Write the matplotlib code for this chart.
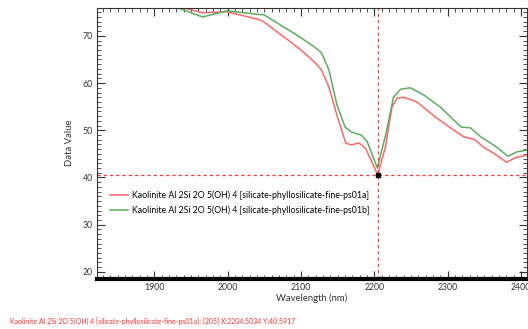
import numpy as np
import matplotlib
matplotlib.use("Agg")
import matplotlib.pyplot as plt
from matplotlib.ticker import MultipleLocator

# ============================
# Data
# ============================
wl_a = [1920, 1966, 1999, 2044, 2049, 2086, 2100, 2118, 2128, 2138, 2149, 2161,
        2169, 2179, 2188, 2204.5, 2215, 2224, 2231, 2240, 2258, 2285, 2304, 2322,
        2336, 2349, 2367, 2380, 2394, 2408]
val_a = [76.7, 74.9, 75.1, 73.4, 73.0, 68.7, 67.0, 64.5, 62.8, 59.2, 53.2, 47.3,
         46.9, 47.3, 46.2, 40.59, 46.4, 54.9, 56.8, 57.0, 56.0, 52.6, 50.5, 48.6,
         48.1, 46.4, 44.7, 43.2, 44.3, 44.7]

wl_b = [1920, 1966, 1999, 2044, 2049, 2094, 2118, 2128, 2138, 2149, 2160, 2169,
        2182, 2190, 2204, 2216, 2226, 2236, 2249, 2267, 2290, 2318, 2331, 2345,
        2367, 2382, 2394, 2408]
val_b = [76.6, 74.0, 75.3, 74.5, 74.5, 70.2, 67.7, 66.4, 62.8, 55.4, 50.7, 49.6,
         49.0, 47.7, 42.0, 49.4, 57.0, 58.7, 59.0, 57.5, 54.9, 50.7, 50.5, 48.6,
         46.4, 44.5, 45.4, 45.8]

label_a = "Kaolinite Al 2Si 2O 5(OH) 4 [silicate-phyllosilicate-fine-ps01a]"
label_b = "Kaolinite Al 2Si 2O 5(OH) 4 [silicate-phyllosilicate-fine-ps01b]"

cursor_x = 2204.5034
cursor_y = 40.5917
cursor_idx = 205

# ============================
# Plot
# ============================
plt.rcParams["font.family"] = ["Lato", "DejaVu Sans"]

fig = plt.figure(figsize=(5.28, 3.29), dpi=100)
ax = fig.add_axes([97 / 528, 1 - 278.5 / 329, 430 / 528, 270.5 / 329])

ax.plot(wl_a, val_a, color="#ff6666", lw=1.1, label=label_a)
ax.plot(wl_b, val_b, color="#5cad5c", lw=1.1, label=label_b)

# cursor crosshair
ax.axhline(cursor_y, color="#ff3333", lw=0.9, ls=(0, (2.5, 2.5)))
ax.axvline(cursor_x, color="#ff3333", lw=0.9, ls=(0, (2.5, 2.5)))
ax.plot([cursor_x], [cursor_y], marker="s", color="black", ms=3, zorder=5)

ax.set_xlim(1822, 2408)
ax.set_ylim(18.6, 75.9)

ax.xaxis.set_major_locator(MultipleLocator(100))
ax.xaxis.set_minor_locator(MultipleLocator(10))
ax.yaxis.set_major_locator(MultipleLocator(10))
ax.yaxis.set_minor_locator(MultipleLocator(1))
ax.tick_params(which="both", direction="in", top=True, right=True,
               labelsize=6.3, colors="#333333", pad=3)
ax.tick_params(which="major", length=6, width=0.8)
ax.tick_params(which="minor", length=3, width=0.6)

for side in ["left", "top", "right"]:
    ax.spines[side].set_linewidth(0.8)
    ax.spines[side].set_color("#333333")
ax.spines["bottom"].set_linewidth(3)
ax.spines["bottom"].set_color("black")

ax.set_xlabel("Wavelength (nm)", fontsize=6.8, color="#333333", labelpad=1)
ax.set_ylabel("Data Value", fontsize=6.8, color="#333333", labelpad=6)

ax.legend(loc="upper left", bbox_to_anchor=(0.012, 0.355), frameon=False,
          fontsize=6.3, handlelength=2.0, handletextpad=0.5, labelspacing=0.6)

fig.text(10 / 528, 1 - 321 / 329,
         f"{label_a}: [{cursor_idx}] X:{cursor_x:.4f} Y:{cursor_y:.4f}",
         fontsize=5.0, color="#ff3030", va="center", ha="left")

fig.savefig("out.png", dpi=100)
